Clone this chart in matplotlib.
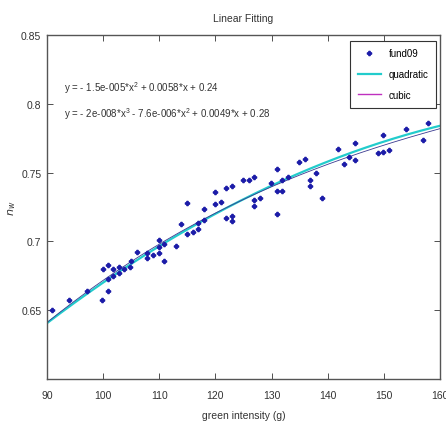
import numpy as np
import matplotlib
matplotlib.use("Agg")
import matplotlib.pyplot as plt
from matplotlib import font_manager

# ---- data ----
green = [90.84, 93.97, 97.07, 99.89, 99.92, 100.92, 100.92, 100.92, 101.84, 101.84,
         102.88, 102.88, 103.80, 104.87, 104.91, 105.98, 107.90, 107.90, 108.93, 109.95,
         109.95, 109.95, 110.89, 110.89, 112.92, 113.96, 114.94, 114.99, 115.95, 116.95,
         116.95, 117.97, 117.97, 119.92, 119.92, 120.94, 121.94, 121.94, 122.92, 122.92,
         122.92, 124.91, 125.93, 126.91, 126.91, 126.91, 127.94, 129.95, 130.92, 130.92,
         130.92, 131.86, 131.86, 132.98, 134.89, 135.90, 136.85, 136.85, 137.86, 138.93,
         141.89, 142.90, 143.85, 144.91, 144.91, 148.90, 149.84, 150.86, 149.79, 153.91,
         156.85, 157.86]
nw = [0.6500, 0.6573, 0.6641, 0.6573, 0.6799, 0.6828, 0.6723, 0.6641, 0.6797, 0.6748,
      0.6816, 0.6768, 0.6796, 0.6816, 0.6858, 0.6923, 0.6916, 0.6880, 0.6898, 0.7009,
      0.6962, 0.6914, 0.6978, 0.6854, 0.6967, 0.7124, 0.7281, 0.7053, 0.7069, 0.7137,
      0.7089, 0.7234, 0.7153, 0.7359, 0.7271, 0.7286, 0.7388, 0.7172, 0.7405, 0.7186,
      0.7150, 0.7444, 0.7449, 0.7467, 0.7298, 0.7254, 0.7315, 0.7427, 0.7524, 0.7363,
      0.7198, 0.7449, 0.7369, 0.7469, 0.7578, 0.7595, 0.7445, 0.7405, 0.7495, 0.7315,
      0.7673, 0.7563, 0.7612, 0.7717, 0.7588, 0.7644, 0.7651, 0.7663, 0.7770, 0.7814,
      0.7734, 0.7863]

quad_coef = [-1.5e-5, 0.0058, 0.24]
cubic_coef = np.polyfit(green, nw, 3)

x_ticks = [90, 100, 110, 120, 130, 140, 150, 160]
y_ticks = [0.65, 0.7, 0.75, 0.8, 0.85]
y_tick_labels = ["0.65", "0.7", "0.75", "0.8", "0.85"]

eq1 = r"y = - 1.5e-005*x$^2$ + 0.0058*x + 0.24"
eq2 = r"y = - 2e-008*x$^3$ - 7.6e-006*x$^2$ + 0.0049*x + 0.28"

# ---- font ----
names = {f.name for f in font_manager.fontManager.ttflist}
fam = ["Liberation Sans Narrow"] if "Liberation Sans Narrow" in names else ["Liberation Sans"]
plt.rcParams["font.family"] = fam + ["DejaVu Sans"]
plt.rcParams["mathtext.fontset"] = "custom"
plt.rcParams["mathtext.rm"] = fam[0]

fig = plt.figure(figsize=(4.46, 4.27), dpi=100)
ax = fig.add_axes([0.105, 0.110, 0.882, 0.806])

xs = np.linspace(90, 160, 200)
ax.plot(green, nw, linestyle="none", marker="P", markersize=3.0,
        color="#1c1ca8", label="fund09", zorder=3)
ax.plot(xs, np.polyval(quad_coef, xs), color="#22cccc", lw=1.6, label="quadratic", zorder=2)
ax.plot(xs, np.polyval(cubic_coef, xs), color="#3a3a90", lw=0.6, label="cubic", zorder=2.5)

ax.set_xlim(90, 160)
ax.set_ylim(0.6, 0.85)
ax.set_xticks(x_ticks)
ax.set_xticklabels([str(t) for t in x_ticks])
ax.set_yticks(y_ticks)
ax.set_yticklabels(y_tick_labels)
ax.tick_params(direction="in", top=True, right=True, length=4, width=0.6,
               labelsize=7.5, colors="#333333")
ax.tick_params(axis="x", pad=8)
ax.tick_params(axis="y", pad=4)
for s in ax.spines.values():
    s.set_color("#555555")
    s.set_linewidth(1.0)

ax.set_title("Linear Fitting", fontsize=7.5, pad=10, color="#333333")
ax.set_xlabel("green intensity (g)", fontsize=7.5, labelpad=7, color="#333333")
ax.set_ylabel(r"$n_w$", fontsize=8, labelpad=2, color="#333333")

ax.text(93.0, 0.812, eq1, fontsize=7, color="#333333", va="center")
ax.text(93.0, 0.7935, eq2, fontsize=7, color="#333333", va="center")

handles, labels = ax.get_legend_handles_labels()
handles[2] = plt.Line2D([], [], color="#bf30bf", lw=1.0)
leg = ax.legend(handles, labels, loc="upper right", bbox_to_anchor=(0.99, 0.983),
                borderaxespad=0, fontsize=7, fancybox=False, handlelength=2.4,
                labelspacing=1.1, borderpad=0.8, framealpha=1)
leg.get_frame().set_edgecolor("#333333")
leg.get_frame().set_linewidth(0.8)

fig.savefig("out.png", dpi=100)
